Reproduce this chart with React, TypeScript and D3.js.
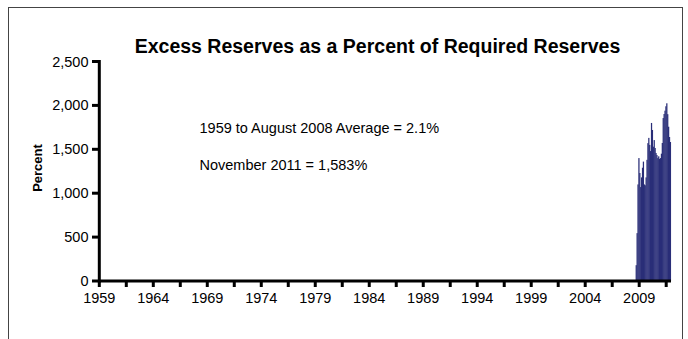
import React from "react";
import * as d3 from "d3";

// Monthly excess reserves as % of required reserves, Sep 2008 – Nov 2011
const barStart = "2008-09";
const barValues = [
  180, 545, 1100, 1400, 1230, 1070, 1180, 1290, 1360, 1100, 1090, 1180,
  1380, 1570, 1630, 1550, 1480, 1800, 1720, 1530, 1605, 1515, 1458, 1435,
  1400, 1420, 1390, 1400, 1450, 1572, 1856, 1902, 1940, 1990, 2024, 1900,
  1757, 1640, 1583,
];
const axisStartYear = 1959;
const axisEnd = "2011-11";
const yTicks = [0, 500, 1000, 1500, 2000, 2500];
const xLabelYears = [1959, 1964, 1969, 1974, 1979, 1984, 1989, 1994, 1999, 2004, 2009];
const title = "Excess Reserves as a Percent of Required Reserves";
const notes = ["1959 to August 2008 Average = 2.1%", "November 2011 = 1,583%"];
const yTitle = "Percent";

const FONT = "'Liberation Sans', Arial, sans-serif";

function monthKey(y: number, m: number) {
  return `${y}-${String(m).padStart(2, "0")}`;
}

export default function App() {
  const [endY, endM] = axisEnd.split("-").map(Number);
  const months: string[] = [];
  for (let y = axisStartYear; y <= endY; y++) {
    for (let m = 1; m <= 12; m++) {
      if (y === endY && m > endM) break;
      months.push(monthKey(y, m));
    }
  }
  const [sy, sm] = barStart.split("-").map(Number);
  const data = barValues.map((v, i) => {
    const idx = (sy * 12 + sm - 1) + i;
    return { key: monthKey(Math.floor(idx / 12), (idx % 12) + 1), v };
  });

  const x = d3.scaleBand<string>().domain(months).range([99.3, 670.7]).padding(0);
  const y = d3.scaleLinear().domain([0, 2500]).range([281, 61.5]);
  const bw = x.bandwidth();
  const tickIdx = d3.range(0, months.length, 30);

  return (
    <svg
      width={688}
      height={339}
      style={{ position: "absolute", left: 0, top: 0, background: "#fff" }}
      fontFamily={FONT}
    >
      <rect x={8.5} y={7.5} width={674} height={400} fill="none" stroke="#444" strokeWidth={1} />
      <text x={377.5} y={53} textAnchor="middle" fontSize={19.5} fontWeight="bold" fill="#000">{title}</text>
      {/* bars */}
      {data.map((d) => (
        <rect
          key={d.key}
          x={x(d.key)!}
          y={y(d.v)}
          width={bw + 0.35}
          height={y(0) - y(d.v)}
          fill="#2a2e78"
        />
      ))}
      {/* y axis */}
      <line x1={99.3} x2={99.3} y1={y(2500) - 1.5} y2={y(0) + 1.5} stroke="#000" strokeWidth={3} />
      {yTicks.map((t) => (
        <g key={t}>
          <line x1={92} x2={99.3} y1={y(t)} y2={y(t)} stroke="#000" strokeWidth={3} />
          <text x={88.5} y={y(t) + 5} textAnchor="end" fontSize={14.5} fill="#000">{d3.format(",")(t)}</text>
        </g>
      ))}
      {/* x axis */}
      <line x1={98} x2={671} y1={y(0)} y2={y(0)} stroke="#000" strokeWidth={3} />
      {tickIdx.map((i) => (
        <line key={i} x1={x(months[i])!} x2={x(months[i])!} y1={y(0)} y2={y(0) + 6} stroke="#000" strokeWidth={3} />
      ))}
      {xLabelYears.map((yr) => (
        <text key={yr} x={x(monthKey(yr, 1))!} y={302.5} textAnchor="middle" fontSize={14.5} fill="#000">{yr}</text>
      ))}
      {/* y title */}
      <text
        transform={`translate(41.5,168) rotate(-90)`}
        textAnchor="middle"
        fontSize={13}
        fontWeight="bold"
        fill="#000"
      >
        {yTitle}
      </text>
      {/* notes */}
      <text x={199.5} y={133} fontSize={14.5} fill="#000">{notes[0]}</text>
      <text x={199.5} y={169.5} fontSize={14.5} fill="#000">{notes[1]}</text>
    </svg>
  );
}
